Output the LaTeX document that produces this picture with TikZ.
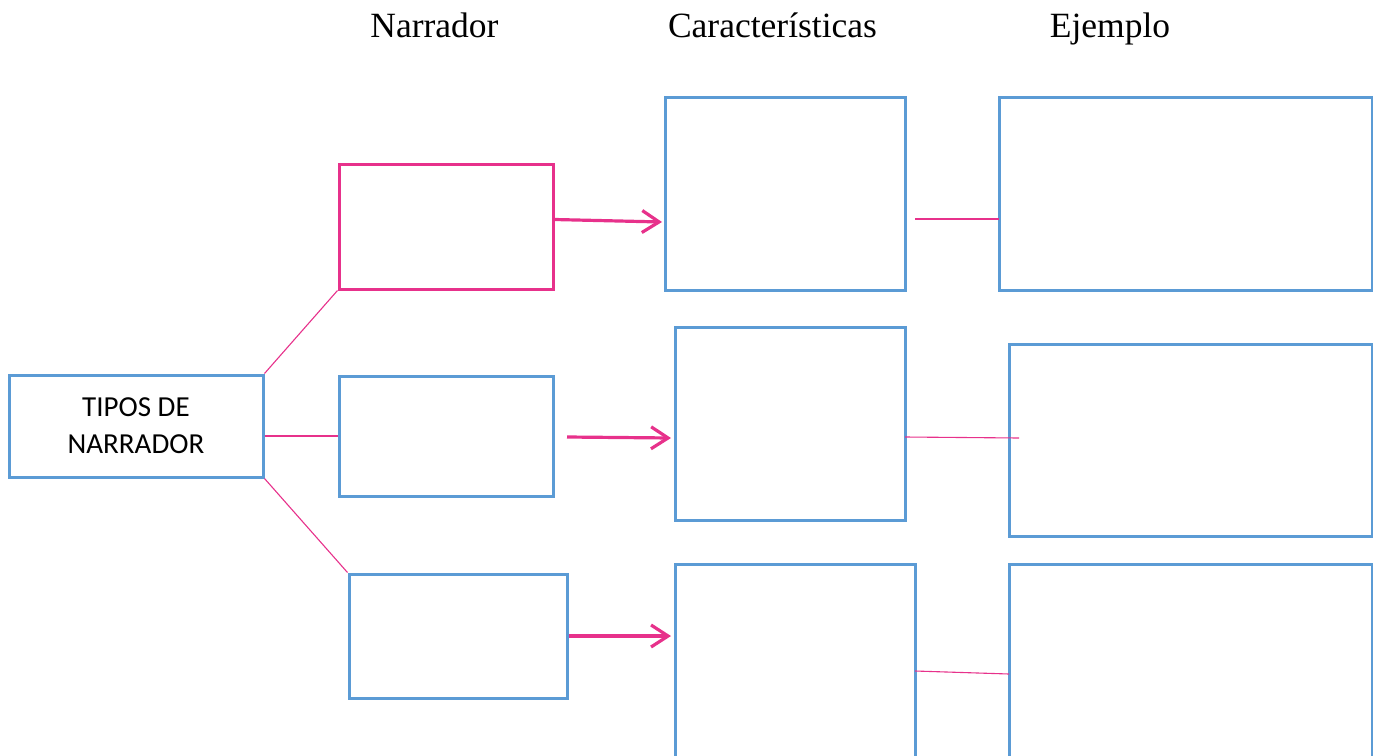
\documentclass[tikz,border=0pt]{standalone}
\usepackage{fontspec}
\setmainfont{Liberation Serif}
\newfontfamily\calibrifont{Carlito}
\usepackage{xcolor}
\usetikzlibrary{arrows.meta,positioning}
\definecolor{cajaazul}{HTML}{5B9BD5}
\definecolor{rosa}{HTML}{E7318B}

\begin{document}
\begin{tikzpicture}[x=1pt,y=-1pt,>={Straight Barb[length=17pt,width=22pt]},
    caja/.style={draw=cajaazul,line width=3pt,rectangle,inner sep=0pt},
    titulo/.style={anchor=base,font=\fontsize{35.5}{40}\selectfont},
    rama/.style={draw=rosa,line width=1.1pt},
    flecha/.style={draw=rosa,line width=3.2pt,->},
  ]
    \useasboundingbox (0,0) rectangle (1373,755);
    \clip (0,0) rectangle (1373,755);
    %%
    \node (tn) at (434.5,37) [titulo] {Narrador};
    \node (tc) at (772.5,37) [titulo] {Características};
    \node (te) at (1110,37) [titulo] {Ejemplo};
    %%
    \node (tipos) at (136,426) [caja,minimum width=254pt,minimum height=102pt,
      align=center,font=\calibrifont\fontsize{29}{37}\selectfont] {TIPOS DE\\NARRADOR};
    \node (n1) at (446,226.5) [caja,draw=rosa,minimum width=214pt,minimum height=125pt] {};
    \node (n2) at (446,436) [caja,minimum width=214pt,minimum height=120pt] {};
    \node (n3) at (458,636) [caja,minimum width=218pt,minimum height=124pt] {};
    \node (c1) at (785,193.5) [caja,minimum width=240pt,minimum height=193pt] {};
    \node (c2) at (790,423.5) [caja,minimum width=230pt,minimum height=193pt] {};
    \node (c3) at (795,660.5) [caja,minimum width=240pt,minimum height=193pt] {};
    \node (e1) at (1185.5,193.5) [caja,minimum width=373pt,minimum height=193pt] {};
    \node (e2) at (1190.5,440) [caja,minimum width=363pt,minimum height=192pt] {};
    \node (e3) at (1190.5,660.5) [caja,minimum width=363pt,minimum height=193pt] {};
    %%
    \coordinate (f1) at (662,222);
    \coordinate (f2a) at (567,437);
    \coordinate (f2b) at (671,438);
    \coordinate (f3) at (671,636);
    \coordinate (l1a) at (915,219);
    \coordinate (l1b) at (999,219);
    \coordinate (l2a) at (905,437);
    \coordinate (l2b) at (1019,438);
    \coordinate (l3a) at (915,671);
    \coordinate (l3b) at (1009,674);
    %%
    \draw [rama] (tipos.north east) -- (n1.south west);
    \draw [rama] (tipos.east |- n2.west) -- (n2.west);
    \draw [rama] (tipos.south east) -- (n3.north west);
    \draw [flecha] ([yshift=7pt]n1.east) -- (f1);
    \draw [flecha] (f2a) -- (f2b);
    \draw [flecha] (n3.east) -- (f3);
    \draw [rama] (l1a) -- (l1b);
    \draw [rama] (l2a) -- (l2b);
    \draw [rama] (l3a) -- (l3b);
    %
\end{tikzpicture}
\end{document}
